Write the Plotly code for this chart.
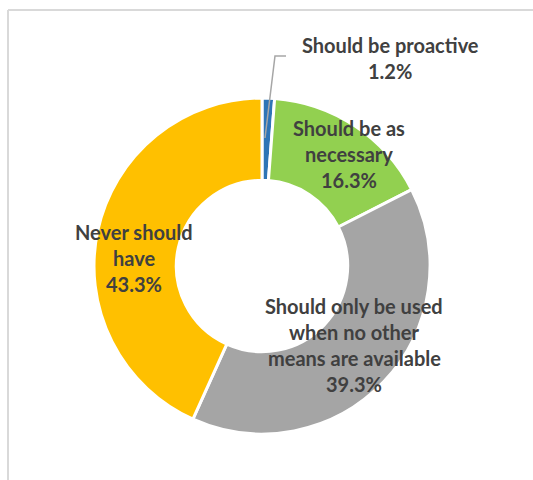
import plotly.graph_objects as go

# Survey responses, in drawing order (clockwise from 12 o'clock)
categories = [
    "Should be proactive",
    "Should be as\nnecessary",
    "Should only be used\nwhen no other\nmeans are available",
    "Never should\nhave",
]
shares = [1.2, 16.3, 39.3, 43.3]
colors = ["#2E75B6", "#92D050", "#A5A5A5", "#FFC000"]

W, H = 533, 480

# Donut geometry in pixels
CX, CY, R = 262, 266, 168

# Label anchor (centre of first line) in pixels
label_pos = [(390, 45), (349, 128), (354, 306), (134, 232)]
LINE_STEP = 26


def px(x):
    return x / W


def py(y):
    return 1 - y / H


fig = go.Figure(
    go.Pie(
        labels=[c.replace("\n", " ") for c in categories],
        values=shares,
        sort=False,
        direction="clockwise",
        rotation=0,
        hole=0.51,
        marker=dict(colors=colors, line=dict(color="white", width=3)),
        textinfo="none",
        hoverinfo="label+percent",
        domain=dict(x=[px(CX - R), px(CX + R)], y=[py(CY + R), py(CY - R)]),
    )
)

annotations = []
for cat, val, (lx, ly) in zip(categories, shares, label_pos):
    lines = cat.split("\n") + [f"{val:.1f}%"]
    for i, line in enumerate(lines):
        annotations.append(
            dict(
                text=f"<b>{line}</b>",
                x=px(lx),
                y=py(ly + i * LINE_STEP),
                xref="paper",
                yref="paper",
                xanchor="center",
                yanchor="middle",
                showarrow=False,
                font=dict(family="Lato", size=20, color="#404040"),
            )
        )

shapes = [
    # chart frame
    dict(type="line", xref="paper", yref="paper", x0=px(8), y0=py(10), x1=px(8), y1=py(H + 5),
         line=dict(color="#D9D9D9", width=2)),
    dict(type="line", xref="paper", yref="paper", x0=px(8), y0=py(10), x1=px(W + 5), y1=py(10),
         line=dict(color="#D9D9D9", width=2)),
    # leader line for the small slice
    dict(type="path", xref="paper", yref="paper",
         path=f"M {px(286)} {py(56)} L {px(275)} {py(56)} L {px(265)} {py(138)}",
         line=dict(color="#A6A6A6", width=1.5)),
]

fig.update_layout(
    width=W,
    height=H,
    margin=dict(l=0, r=0, t=0, b=0),
    paper_bgcolor="white",
    plot_bgcolor="white",
    showlegend=False,
    annotations=annotations,
    shapes=shapes,
)

fig.write_html("out.html")
